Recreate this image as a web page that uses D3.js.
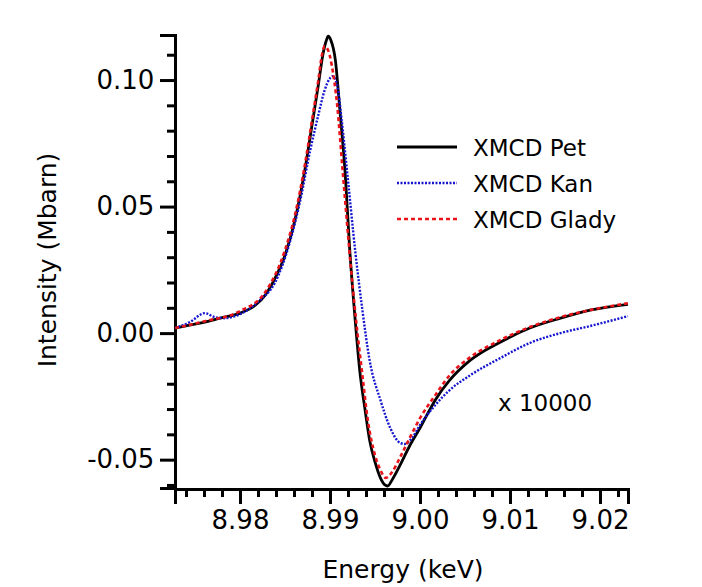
<!DOCTYPE html><html><head><meta charset="utf-8"><script src="https://cdn.jsdelivr.net/npm/d3@7"></script>
<style>body{margin:0;background:#fff}text{font-family:"DejaVu Sans",sans-serif}</style></head><body><svg id="c" width="702" height="587"></svg><script>
const petE=[8.9728,8.9744,8.9761,8.9778,8.98,8.9817,8.9828,8.9839,8.985,8.9861,8.9872,8.988,8.9887,8.9892,8.9896,8.9898,8.9901,8.9906,8.9911,8.9917,8.9922,8.9928,8.9933,8.9939,8.9944,8.995,8.9956,8.9961,8.9964,8.9969,8.9978,8.9989,9.0,9.0017,9.0033,9.0056,9.0089,9.0122,9.0156,9.0189,9.0231];
const petV=[0.002,0.0032,0.0043,0.0059,0.0079,0.011,0.015,0.0217,0.0308,0.0446,0.0643,0.0821,0.0979,0.1098,0.1157,0.1173,0.1157,0.1078,0.088,0.0624,0.0326,0.0051,-0.0146,-0.0304,-0.0422,-0.0509,-0.0572,-0.06,-0.0604,-0.058,-0.0521,-0.0442,-0.0375,-0.0264,-0.0186,-0.0107,-0.0036,0.002,0.0059,0.0091,0.0114];
const kanE=[8.9728,8.9744,8.9761,8.9772,8.9783,8.98,8.9822,8.9839,8.9856,8.9867,8.9878,8.9887,8.9894,8.99,8.9903,8.9908,8.9913,8.992,8.9928,8.9936,8.9944,8.9956,8.9967,8.9978,8.9983,8.9991,9.0,9.0017,9.0033,9.0056,9.0089,9.0122,9.0156,9.0189,9.0231];
const kanV=[0.002,0.0043,0.0079,0.0063,0.0059,0.0075,0.013,0.02,0.0367,0.0525,0.0722,0.0861,0.0959,0.1007,0.1015,0.0979,0.0841,0.0604,0.0326,0.0091,-0.0107,-0.0264,-0.0375,-0.0434,-0.0438,-0.0415,-0.0363,-0.0284,-0.0225,-0.0166,-0.0099,-0.0039,0,0.0028,0.0067];
const gladE=[8.9728,8.9761,8.98,8.9828,8.985,8.9861,8.9872,8.988,8.9887,8.9891,8.9894,8.9898,8.9902,8.9908,8.9914,8.9922,8.9929,8.9936,8.9942,8.995,8.9956,8.9962,8.9969,8.9978,8.9989,9.0,9.0017,9.0033,9.0056,9.0089,9.0122,9.0156,9.0189,9.0231];
const gladV=[0.002,0.0047,0.0087,0.0162,0.0328,0.0466,0.0663,0.0841,0.0999,0.1098,0.1133,0.1117,0.1058,0.09,0.0644,0.0308,0.0051,-0.0166,-0.0343,-0.0482,-0.0541,-0.0572,-0.0549,-0.049,-0.0411,-0.0336,-0.0245,-0.0166,-0.0095,-0.0028,0.0024,0.0063,0.0091,0.0118];
const xTicks=[8.98,8.99,9.00,9.01,9.02], yTicks=[-0.05,0,0.05,0.10];
const series=[{name:"XMCD Pet",e:petE,v:petV,c:"#000",d:null,w:2.8},{name:"XMCD Kan",e:kanE,v:kanV,c:"#1515d0",d:"2,1.5",w:2.4},{name:"XMCD Glady",e:gladE,v:gladV,c:"#e8141a",d:"4,3",w:2.6}];
const svg=d3.select("#c");
const x=d3.scaleLinear().domain([8.97278,9.02311]).range([175,628]);
const y=d3.scaleLinear().domain([-0.0612,0.1178]).range([488,35]);
const f=d3.format(".2f");
svg.append("g").attr("transform","translate(0,489)").call(d3.axisBottom(x).tickValues(xTicks).tickSize(15).tickFormat(f)).call(g=>{g.select(".domain").attr("stroke-width",3);g.selectAll("line").attr("stroke-width",3);g.selectAll("text").attr("font-size",26).attr("dy","0.85em")});
svg.append("g").attr("transform","translate(0,489)").call(d3.axisBottom(x).tickValues(d3.range(8.974,9.0231,0.002).filter(t=>Math.abs(t*100-Math.round(t*100))>0.01)).tickSize(8).tickFormat("")).call(g=>{g.select(".domain").remove();g.selectAll("line").attr("stroke-width",3)});
svg.append("g").attr("transform","translate(175,0)").call(d3.axisLeft(y).tickValues(yTicks).tickSize(15).tickFormat(d=>f(d).replace("−","-"))).call(g=>{g.select(".domain").attr("stroke-width",3);g.selectAll("line").attr("stroke-width",3);g.selectAll("text").attr("font-size",26).attr("dx","-0.1em")});
svg.append("g").attr("transform","translate(175,0)").call(d3.axisLeft(y).tickValues(d3.range(-0.06,0.118,0.01).filter(t=>Math.abs(t*20-Math.round(t*20))>0.01)).tickSize(8).tickFormat("")).call(g=>{g.select(".domain").remove();g.selectAll("line").attr("stroke-width",3)});
const line=d3.line().curve(d3.curveMonotoneX);
series.forEach(s=>{svg.append("path").attr("d",line(s.e.map((e,i)=>[x(e),y(s.v[i])]))).attr("fill","none").attr("stroke",s.c).attr("stroke-width",s.w).attr("stroke-dasharray",s.d);});
const lg=svg.append("g");
series.forEach((s,i)=>{const yy=147+36*i;lg.append("line").attr("x1",397).attr("x2",457).attr("y1",yy).attr("y2",yy).attr("stroke",s.c).attr("stroke-width",s.w).attr("stroke-dasharray",s.d);lg.append("text").attr("x",473).attr("y",yy+9).attr("font-size",23).text(s.name);});
svg.append("text").attr("x",498).attr("y",411).attr("font-size",23).text("x 10000");
svg.append("text").attr("x",403).attr("y",578).attr("text-anchor","middle").attr("font-size",25).text("Energy (keV)");
svg.append("text").attr("transform","translate(56,260) rotate(-90)").attr("text-anchor","middle").attr("font-size",25).text("Intensity (Mbarn)");
</script></body></html>
